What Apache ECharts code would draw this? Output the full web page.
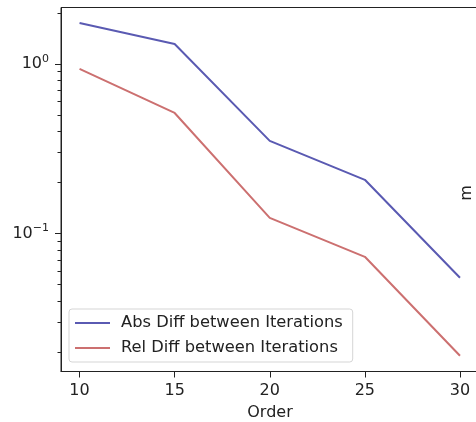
<!DOCTYPE html>
<html><head><meta charset="utf-8">
<script src="https://cdn.jsdelivr.net/npm/echarts@6/dist/echarts.min.js"></script>
<style>html,body{margin:0;padding:0;background:#fff}#c{width:476px;height:422px}</style>
</head><body><div id="c"></div>
<script>
const orders = [10, 15, 20, 25, 30];
const absDiff = [1.744, 1.311, 0.352, 0.2075, 0.0549];
const relDiff = [0.934, 0.514, 0.1239, 0.0730, 0.01907];
const xTicks = [10, 15, 20, 25, 30];
const yMajorTicks = [0.1, 1];
const yMinorTicks = [0.02,0.03,0.04,0.05,0.06,0.07,0.08,0.09,0.2,0.3,0.4,0.5,0.6,0.7,0.8,0.9,2];

const F = 'DejaVu Sans';
const FS = 16;
const chart = echarts.init(document.getElementById('c'), null, {renderer: 'canvas'});
const supLabel = v => {
  const e = Math.round(Math.log10(v));
  return '{b|10}{s|' + (e < 0 ? '\u2212' + (-e) : e) + '}';
};
chart.setOption({
  animation: false,
  textStyle: {fontFamily: F},
  grid: {left: 61, top: 7.5, right: -3, bottom: 50.5, outerBoundsMode: 'none', containLabel: false,
         show: true, borderColor: '#222', borderWidth: 1},
  legend: {
    orient: 'vertical', left: 69, top: 309,
    itemWidth: 35, itemHeight: 2, itemGap: 9,
    padding: [6, 10, 6, 6],
    backgroundColor: 'rgba(255,255,255,0.85)', borderColor: '#d5d5d5', borderWidth: 1, borderRadius: 3,
    textStyle: {fontFamily: F, fontSize: 16.3, color: '#222', padding: [0, 0, 0, 6]},
    data: [{name: 'Abs Diff between Iterations', icon: 'rect'}, {name: 'Rel Diff between Iterations', icon: 'rect'}]
  },
  xAxis: {
    type: 'value', min: 9.025, max: 31,
    name: 'Order', nameLocation: 'middle', nameGap: 33,
    nameTextStyle: {fontFamily: F, fontSize: FS, color: '#222'},
    axisLine: {show: true, lineStyle: {color: '#222'}},
    axisTick: {show: true, length: 6, lineStyle: {color: '#222'}, customValues: xTicks},
    axisLabel: {fontFamily: F, fontSize: FS, color: '#222', margin: 11, customValues: xTicks},
    splitLine: {show: false}
  },
  yAxis: [{
    type: 'log', min: 0.0154, max: 2.15,
    axisLine: {show: true, lineStyle: {color: '#222'}},
    axisTick: {show: true, length: 6, lineStyle: {color: '#222'}, customValues: yMajorTicks},
    axisLabel: {
      margin: 12, customValues: yMajorTicks,
      formatter: supLabel,
      rich: {
        b: {fontFamily: F, fontSize: FS, color: '#222'},
        s: {fontFamily: F, fontSize: 11, color: '#222', padding: [0, 0, 10, 0]}
      }
    },
    splitLine: {show: false}
  }, {
    type: 'log', min: 0.0154, max: 2.15, position: 'left',
    axisLine: {show: false},
    axisTick: {show: true, length: 3.5, lineStyle: {color: '#222'}, customValues: yMinorTicks},
    axisLabel: {show: false},
    splitLine: {show: false}
  }],
  series: [{
    name: 'Abs Diff between Iterations', type: 'line', yAxisIndex: 0,
    data: orders.map((o, i) => [o, absDiff[i]]),
    symbol: 'none', lineStyle: {color: '#5a5ab2', width: 2}, itemStyle: {color: '#5a5ab2'}
  }, {
    name: 'Rel Diff between Iterations', type: 'line', yAxisIndex: 0,
    data: orders.map((o, i) => [o, relDiff[i]]),
    symbol: 'none', lineStyle: {color: '#cc7070', width: 2}, itemStyle: {color: '#cc7070'}
  }],
  graphic: [{
    type: 'text', x: 467, y: 193, rotation: Math.PI / 2,
    style: {text: 'm', fontFamily: F, fontSize: FS, fill: '#222', align: 'center', verticalAlign: 'middle'}
  }]
});
</script></body></html>
